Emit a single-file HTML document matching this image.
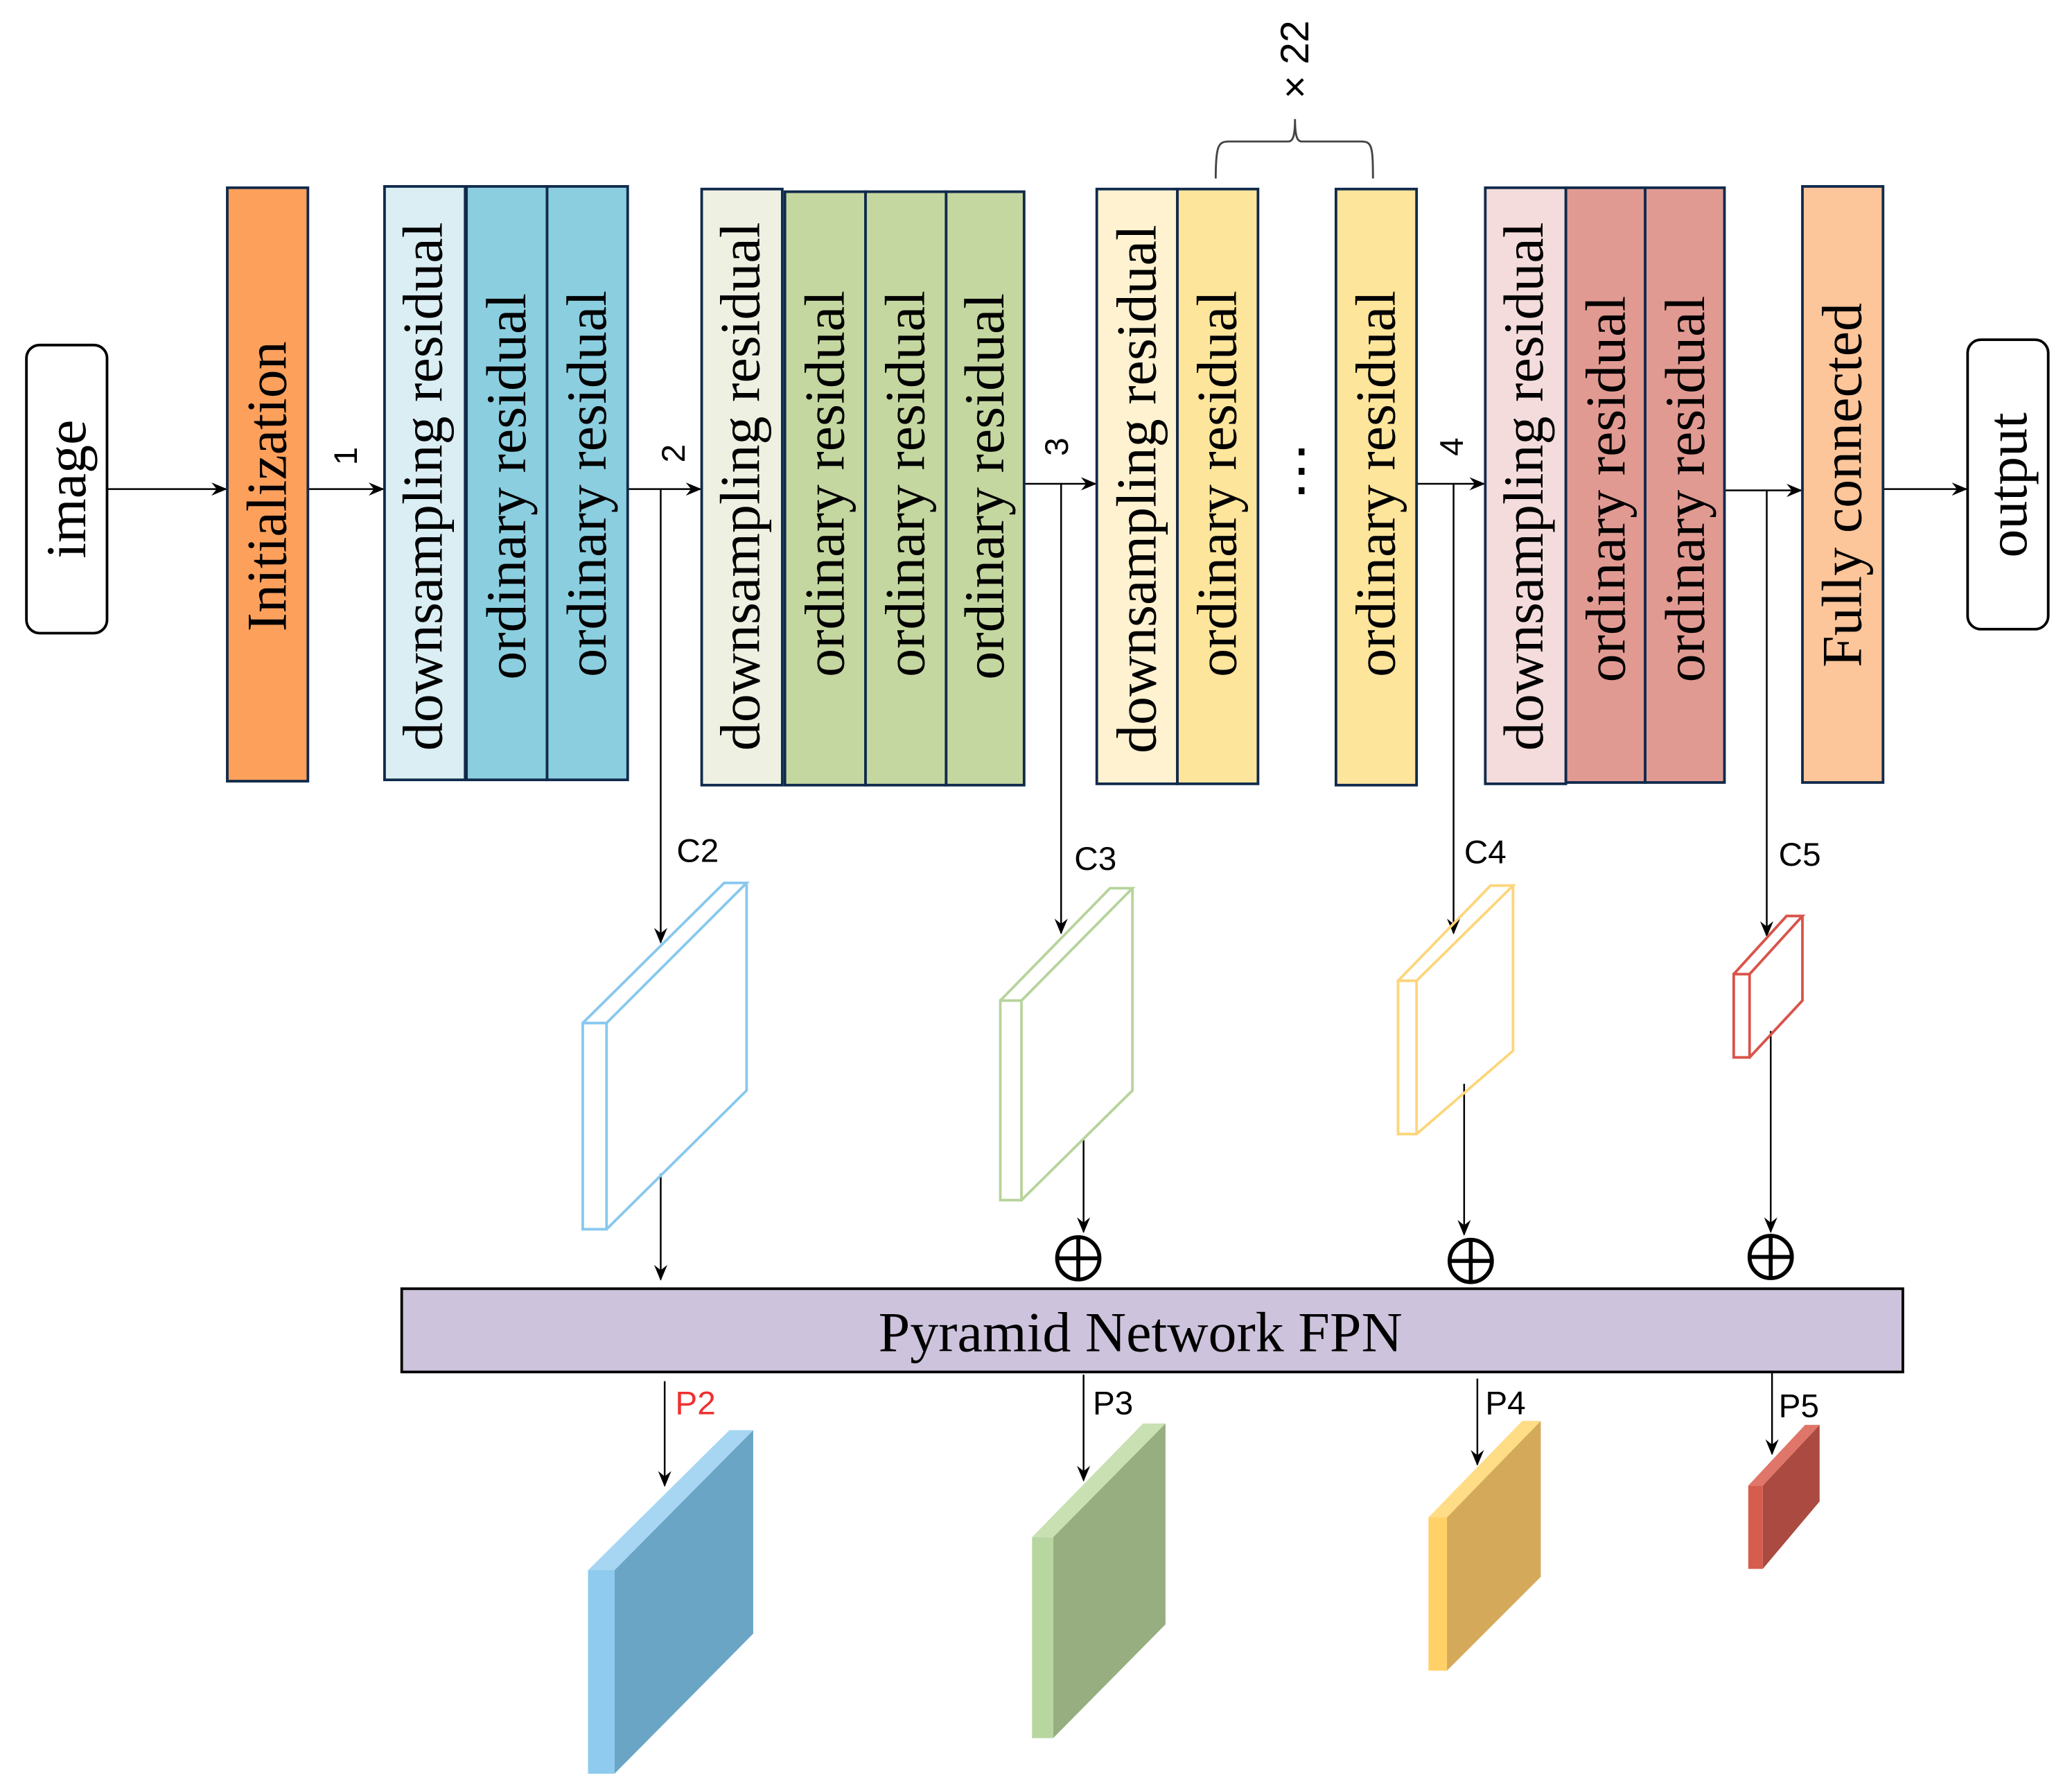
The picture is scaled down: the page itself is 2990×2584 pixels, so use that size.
<!DOCTYPE html>
<html><head><meta charset="utf-8"><style>
html,body{margin:0;padding:0;background:#fff}
svg{display:block}
.s{font-family:"Liberation Serif",serif;font-size:43px;fill:#000}
.a{font-family:"Liberation Sans",sans-serif;font-size:25px;fill:#000}
</style></head><body>
<svg width="2990" height="2584" viewBox="0 0 1568 1355" xmlns="http://www.w3.org/2000/svg">
<defs><marker id="ar" markerWidth="12" markerHeight="12" refX="11" refY="6" orient="auto" markerUnits="userSpaceOnUse"><path d="M0,1 L12,6 L0,11 L4,6 Z" fill="#000"/></marker></defs>
<rect width="1568" height="1355" fill="#fff"/>
<g stroke="#000" stroke-width="1.3" fill="none" marker-end="url(#ar)">
<line x1="81" y1="370" x2="171" y2="370"/>
<line x1="233" y1="370" x2="290" y2="370"/>
<line x1="475" y1="370" x2="530" y2="370"/>
<line x1="775" y1="366" x2="829" y2="366"/>
<line x1="1072" y1="366" x2="1123" y2="366"/>
<line x1="1305" y1="371" x2="1363" y2="371"/>
<line x1="1425" y1="370" x2="1488" y2="370"/>
<line x1="500" y1="370" x2="500" y2="713"/>
<line x1="803" y1="366" x2="803" y2="706"/>
<line x1="1100" y1="366" x2="1100" y2="706"/>
<line x1="1337" y1="371" x2="1337" y2="708"/>
<line x1="500" y1="888" x2="500" y2="968"/>
<line x1="820" y1="862" x2="820" y2="932"/>
<line x1="1108" y1="820" x2="1108" y2="934"/>
<line x1="1340" y1="780" x2="1340" y2="932"/>
<line x1="503" y1="1045" x2="503" y2="1124"/>
<line x1="820" y1="1040" x2="820" y2="1120"/>
<line x1="1118" y1="1043" x2="1118" y2="1108"/>
<line x1="1341" y1="1038" x2="1341" y2="1100"/>
</g>
<rect x="20" y="261" width="61" height="218" rx="10" fill="#fff" stroke="#000" stroke-width="2"/>
<text class="s" transform="translate(50,370) rotate(-90)" text-anchor="middle" dominant-baseline="central">image</text>
<rect x="1489" y="257" width="61" height="219" rx="10" fill="#fff" stroke="#000" stroke-width="2"/>
<text class="s" transform="translate(1519,367) rotate(-90)" text-anchor="middle" dominant-baseline="central">output</text>
<g stroke="#102a4c" stroke-width="2">
<rect x="172" y="142" width="61" height="449" fill="#fca05c"/>
<rect x="291" y="141" width="61" height="449" fill="#daeef3"/>
<rect x="353" y="141" width="61" height="449" fill="#8bcedf"/>
<rect x="414" y="141" width="61" height="449" fill="#8bcedf"/>
<rect x="531" y="143" width="61" height="451" fill="#eef0e2"/>
<rect x="594" y="145" width="61" height="449" fill="#c5d7a0"/>
<rect x="655" y="145" width="61" height="449" fill="#c5d7a0"/>
<rect x="716" y="145" width="59" height="449" fill="#c5d7a0"/>
<rect x="830" y="143" width="61" height="450" fill="#fff2d1"/>
<rect x="891" y="143" width="61" height="450" fill="#fee59c"/>
<rect x="1011" y="143" width="61" height="451" fill="#fee59c"/>
<rect x="1124" y="142" width="61" height="451" fill="#f4dcdc"/>
<rect x="1185" y="142" width="60" height="450" fill="#e19a92"/>
<rect x="1245" y="142" width="60" height="450" fill="#e19a92"/>
<rect x="1364" y="141" width="61" height="451" fill="#fcc59a"/>
</g>
<g class="s" text-anchor="middle" dominant-baseline="central">
<text transform="translate(202,368) rotate(-90)">Initialization</text>
<text transform="translate(320,368) rotate(-90)">downsampling residual</text>
<text transform="translate(383,368) rotate(-90)">ordinary residual</text>
<text transform="translate(444,366) rotate(-90)">ordinary residual</text>
<text transform="translate(560,368) rotate(-90)">downsampling residual</text>
<text transform="translate(624,366) rotate(-90)">ordinary residual</text>
<text transform="translate(685,366) rotate(-90)">ordinary residual</text>
<text transform="translate(745,368) rotate(-90)">ordinary residual</text>
<text transform="translate(860,370) rotate(-90)">downsampling residual</text>
<text transform="translate(921,366) rotate(-90)">ordinary residual</text>
<text transform="translate(1041,366) rotate(-90)">ordinary residual</text>
<text transform="translate(1153,368) rotate(-90)">downsampling residual</text>
<text transform="translate(1215,370) rotate(-90)">ordinary residual</text>
<text transform="translate(1275,370) rotate(-90)">ordinary residual</text>
<text transform="translate(1394,367) rotate(-90)">Fully connected</text>
</g>
<text class="s" x="985" y="370" text-anchor="middle" font-size="34">⋮</text>
<g class="a" text-anchor="middle" dominant-baseline="central">
<text transform="translate(262,345) rotate(-90)">1</text>
<text transform="translate(510,343) rotate(-90)">2</text>
<text transform="translate(800,338) rotate(-90)">3</text>
<text transform="translate(1099,338) rotate(-90)">4</text>
<text transform="translate(980,45) rotate(-90)" font-size="30">× 22</text>
</g>
<path d="M920,135 C920,110 922,107 930,107 L975,107 C978,107 980,104 980,90 C980,104 982,107 985,107 L1030,107 C1038,107 1039,110 1039,135" fill="none" stroke="#444" stroke-width="1.5"/>
<g class="a">
<text x="512" y="652">C2</text><text x="813" y="658">C3</text><text x="1108" y="653">C4</text><text x="1346" y="655">C5</text>
<text x="511" y="1070" fill="#f03030">P2</text><text x="827" y="1070">P3</text><text x="1124" y="1070">P4</text><text x="1346" y="1072">P5</text>
</g>
<g fill="none" stroke-width="2">
<g stroke="#88c8ee"><rect x="441" y="774" width="18" height="156"/><path d="M441,774 L548,668 L565,668 L459,774 M565,668 L565,825 L459,930"/></g>
<g stroke="#b6d49c"><rect x="757" y="757" width="16" height="151"/><path d="M757,757 L840,672 L857,672 L773,757 M857,672 L857,825 L773,908"/></g>
<g stroke="#fcd67a"><rect x="1058" y="742" width="14" height="116"/><path d="M1058,742 L1128,670 L1145,670 L1072,742 M1145,670 L1145,795 L1072,858"/></g>
<g stroke="#d9534a"><rect x="1312" y="737" width="12" height="63"/><path d="M1312,737 L1352,693 L1364,693 L1324,737 M1364,693 L1364,757 L1324,800"/></g>
</g>
<g fill="none" stroke="#000" stroke-width="3">
<circle cx="816" cy="952" r="16"/><path d="M800,952 H832 M816,936 V968"/>
<circle cx="1113" cy="954" r="16"/><path d="M1097,954 H1129 M1113,938 V970"/>
<circle cx="1340" cy="951" r="16"/><path d="M1324,951 H1356 M1340,935 V967"/>
</g>
<rect x="304" y="975" width="1136" height="63" fill="#cdc3dc" stroke="#000" stroke-width="2"/>
<text class="s" x="863" y="1008" text-anchor="middle" dominant-baseline="central" font-size="42">Pyramid Network FPN</text>
<polygon points="465,1188 570,1082 570,1236 465,1342" fill="#6aa5c6"/>
<polygon points="445,1188 552,1082 570,1082 465,1188" fill="#a6d6f2"/>
<rect x="445" y="1188" width="20" height="154" fill="#8ecbee"/>
<polygon points="797,1163 882,1077 882,1229 797,1315" fill="#97ae80"/>
<polygon points="781,1163 865,1077 882,1077 797,1163" fill="#c8e0b2"/>
<rect x="781" y="1163" width="16" height="152" fill="#b8d6a0"/>
<polygon points="1095,1148 1166,1075 1166,1193 1095,1264" fill="#d4aa5a"/>
<polygon points="1081,1148 1152,1075 1166,1075 1095,1148" fill="#ffdc86"/>
<rect x="1081" y="1148" width="14" height="116" fill="#ffd166"/>
<polygon points="1334,1124 1377,1078 1377,1136 1334,1187" fill="#aa4a40"/>
<polygon points="1323,1124 1366,1078 1377,1078 1334,1124" fill="#e0766a"/>
<rect x="1323" y="1124" width="11" height="63" fill="#d65c4e"/>
</svg>
</body></html>
